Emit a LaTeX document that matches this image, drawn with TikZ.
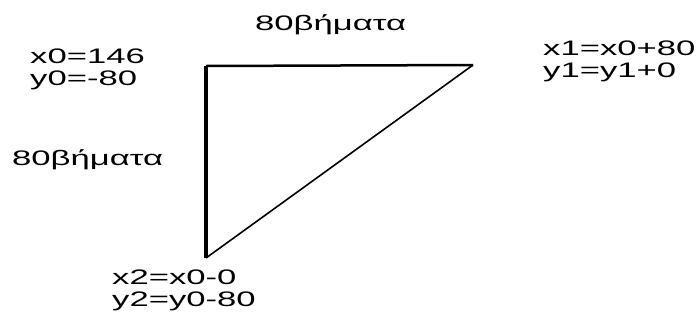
\documentclass[tikz,border=0pt]{standalone}
\usepackage{fontspec}
\setmainfont{Liberation Sans}[FakeStretch=1.65]
\usepackage{tikz}
\usetikzlibrary{positioning}

\begin{document}
\begin{tikzpicture}[x=1pt,y=-1pt,every node/.style={font=\fontsize{21}{22}\selectfont,inner sep=0pt,anchor=base west,align=left}]
  \useasboundingbox (0,0) rectangle (699,322);
  \coordinate (A) at (206,66);
  \coordinate (B) at (473,65);
  \coordinate (C) at (206,258);
  \draw[line width=2.5pt] (A) -- (B);
  \draw[line width=3.5pt] (A) -- (C);
  \draw[line width=1.6pt] (B) -- (C);
  % two-line labels: base is the second line
  \node (p0) at (30,85) {x0=146\\y0=-80};
  \node (p1) at (543,77) {x1=x0+80\\y1=y1+0};
  \node (p2) at (112,306) {x2=x0-0\\y2=y0-80};
  \node (top) at (255,30) {80βήματα};
  \node (side) at (12,165) {80βήματα};
\end{tikzpicture}
\end{document}
